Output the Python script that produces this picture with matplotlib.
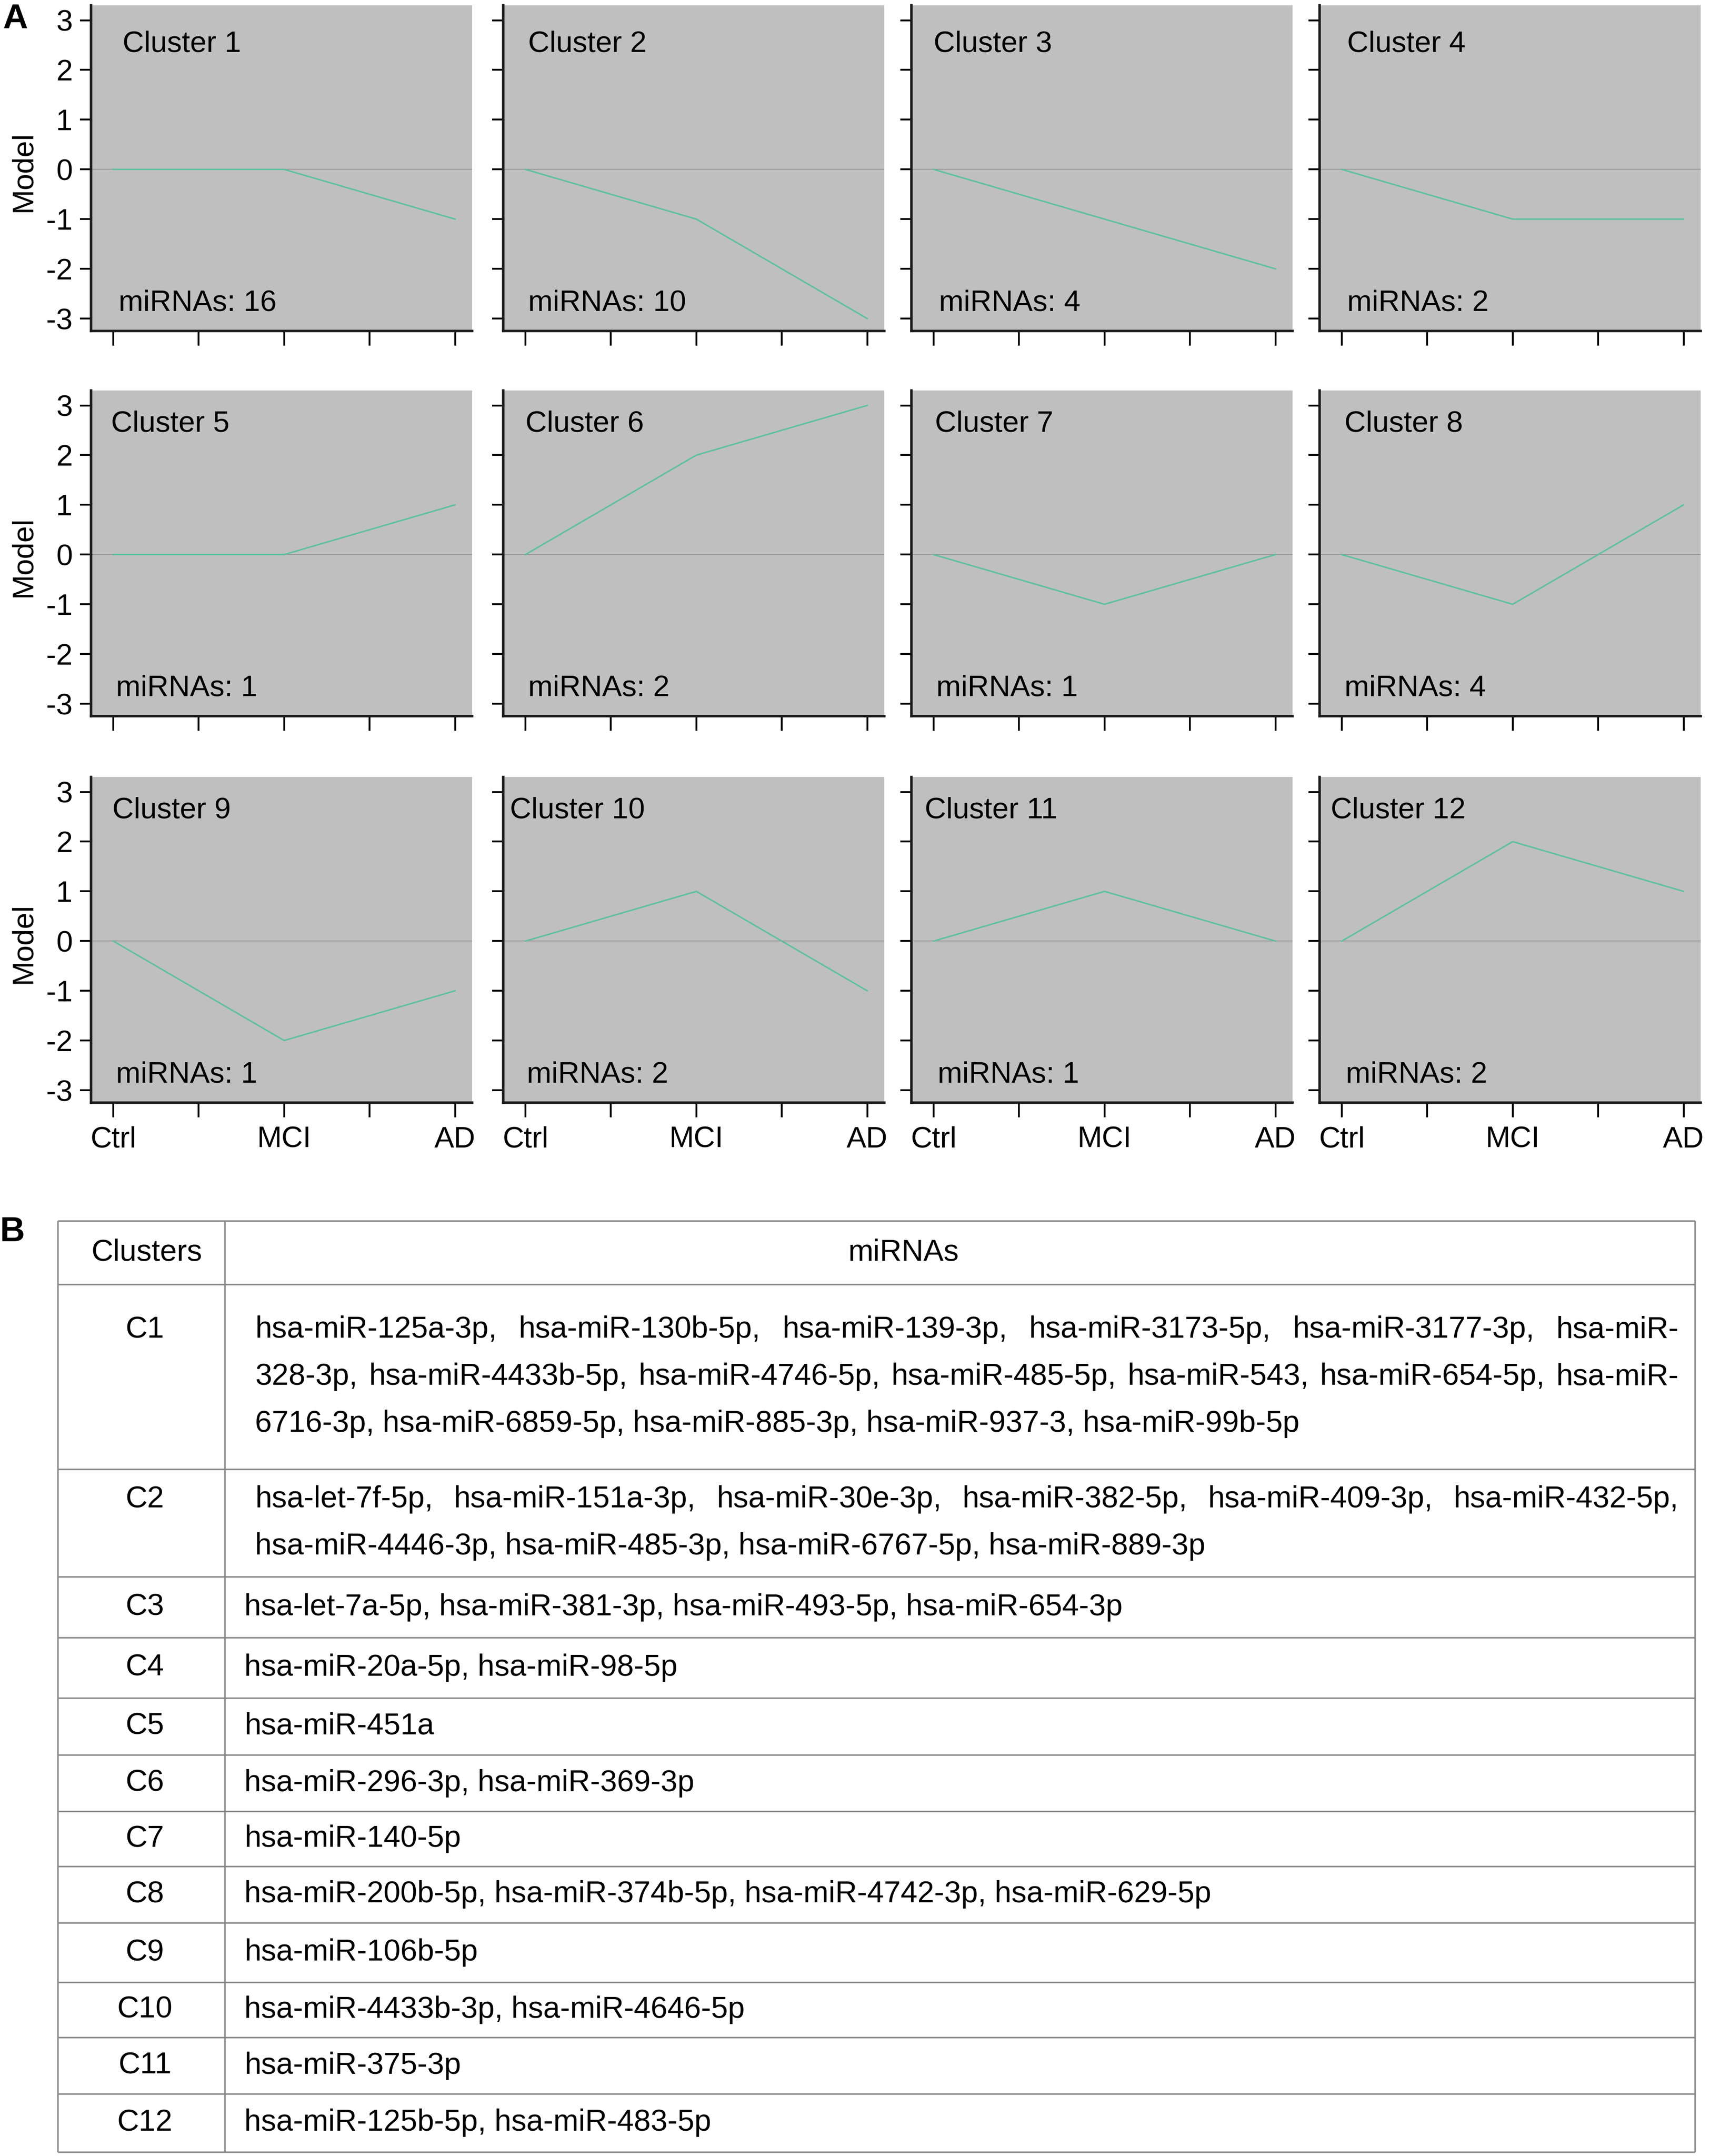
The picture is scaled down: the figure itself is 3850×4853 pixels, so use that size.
import matplotlib
matplotlib.use("Agg")
import matplotlib.pyplot as plt

plt.rcParams['font.family'] = ['Liberation Sans', 'DejaVu Sans']

# ---- panel A data: model profiles per cluster (Ctrl, MCI, AD)
groups = ["Ctrl", "MCI", "AD"]
profiles = [
    [0, 0, -1], [0, -1, -3], [0, -1, -2], [0, -1, -1],
    [0, 0, 1], [0, 2, 3], [0, -1, 0], [0, -1, 1],
    [0, -2, -1], [0, 1, -1], [0, 1, 0], [0, 2, 1],
]
n_mirnas = [16, 10, 4, 2, 1, 2, 1, 4, 1, 2, 1, 2]
yticks = [3, 2, 1, 0, -1, -2, -3]

# ---- panel B data: table
table_header = ["Clusters", "miRNAs"]
table_clusters = ["C%d" % (i + 1) for i in range(12)]
table_mirnas = [
    ["hsa-miR-125a-3p,  hsa-miR-130b-5p,  hsa-miR-139-3p,  hsa-miR-3173-5p,  hsa-miR-3177-3p,  hsa-miR-",
     "328-3p, hsa-miR-4433b-5p, hsa-miR-4746-5p, hsa-miR-485-5p, hsa-miR-543, hsa-miR-654-5p, hsa-miR-",
     "6716-3p, hsa-miR-6859-5p, hsa-miR-885-3p, hsa-miR-937-3, hsa-miR-99b-5p"],
    ["hsa-let-7f-5p,  hsa-miR-151a-3p,  hsa-miR-30e-3p,  hsa-miR-382-5p,  hsa-miR-409-3p,  hsa-miR-432-5p,",
     "hsa-miR-4446-3p, hsa-miR-485-3p, hsa-miR-6767-5p, hsa-miR-889-3p"],
    ["hsa-let-7a-5p, hsa-miR-381-3p, hsa-miR-493-5p, hsa-miR-654-3p"],
    ["hsa-miR-20a-5p, hsa-miR-98-5p"],
    ["hsa-miR-451a"],
    ["hsa-miR-296-3p, hsa-miR-369-3p"],
    ["hsa-miR-140-5p"],
    ["hsa-miR-200b-5p, hsa-miR-374b-5p, hsa-miR-4742-3p, hsa-miR-629-5p"],
    ["hsa-miR-106b-5p"],
    ["hsa-miR-4433b-3p, hsa-miR-4646-5p"],
    ["hsa-miR-375-3p"],
    ["hsa-miR-125b-5p, hsa-miR-483-5p"],
]

W, H = 3850, 4853
fig = plt.figure(figsize=(W / 100, H / 100), dpi=100)

line_col = "#5ec0a0"
panel_bg = "#bfbfbf"
fs = 48

col_left = [205, 1133, 2052, 2971]
row_top = [12, 879, 1749]
pw, ph = 858, 733
# label offsets inside each panel (pixels from left spine)
title_dx = [71, 56, 50, 62, 45, 50, 53, 56, 48, 15, 30, 25]
count_dx = [62, 56, 62, 62, 56, 56, 56, 56, 56, 53, 59, 59]
title_y = [0.88, 0.897, 0.897]

for i, prof in enumerate(profiles):
    r, c = divmod(i, 4)
    x0 = col_left[c]
    y0 = row_top[r]
    ax = fig.add_axes([x0 / W, 1 - (y0 + ph) / H, pw / W, ph / H])
    ax.set_facecolor(panel_bg)
    ax.axhline(0, color="#9a9a9a", lw=1.5, zorder=1)
    ax.plot(range(len(groups)), prof, color=line_col, lw=2.4, zorder=2)
    ax.set_xlim(-0.13, 2.1)
    ax.set_ylim(-3.25, 3.3)
    for s in ["top", "right"]:
        ax.spines[s].set_visible(False)
    for s in ["left", "bottom"]:
        ax.spines[s].set_linewidth(4)
        ax.spines[s].set_color("#1a1a1a")
    ax.set_yticks(yticks)
    ax.set_xticks([0, 0.5, 1, 1.5, 2])
    ax.tick_params(axis="y", length=18, width=3, pad=12, labelsize=fs)
    ax.tick_params(axis="x", length=24, width=3, pad=14, labelsize=fs)
    if c == 0:
        ax.set_yticklabels([str(v) for v in yticks])
        fig.text(53 / W, 1 - (y0 + 0.51 * ph) / H, "Model", rotation=90,
                 ha="center", va="center", fontsize=fs)
    else:
        ax.set_yticklabels([])
    if r == 2:
        ax.set_xticklabels(["Ctrl", "", "MCI", "", "AD"])
    else:
        ax.set_xticklabels([])
    ax.text(title_dx[i] / pw, title_y[r], "Cluster %d" % (i + 1), transform=ax.transAxes,
            ha="left", va="center", fontsize=fs)
    ax.text(count_dx[i] / pw, 0.085, "miRNAs: %d" % n_mirnas[i], transform=ax.transAxes,
            ha="left", va="center", fontsize=fs)

fig.text(34 / W, 1 - 43 / H, "A", fontsize=56, fontweight="bold", ha="center", va="center")
fig.text(28 / W, 1 - 2773 / H, "B", fontsize=56, fontweight="bold", ha="center", va="center")

# ---- table
tab = fig.add_axes([0, 0, 1, 1])
tab.set_xlim(0, W)
tab.set_ylim(H, 0)
tab.axis("off")

t_left, t_div, t_right = 130, 506, 3816
row_edges = [2748, 2891, 3307, 3549, 3686, 3822, 3950, 4077, 4201, 4328, 4462, 4586, 4713, 4844]
gcol = "#8a8a8a"
for yy in row_edges:
    tab.plot([t_left, t_right], [yy, yy], color=gcol, lw=2.5, solid_capstyle="butt")
for xx in [t_left, t_div, t_right]:
    tab.plot([xx, xx], [row_edges[0], row_edges[-1]], color=gcol, lw=2.5, solid_capstyle="butt")

tfs = 49
hy = (row_edges[0] + row_edges[1]) / 2
tab.text(330, hy, table_header[0], ha="center", va="center", fontsize=tfs)
tab.text(2034, hy, table_header[1], ha="center", va="center", fontsize=tfs)

renderer = fig.canvas.get_renderer()
line_step = 106


def put_line(x0, x1, y, text, justify):
    if not justify:
        tab.text(x0, y, text, ha="left", va="center", fontsize=tfs)
        return
    words = text.split()
    objs = [tab.text(0, y, w, ha="left", va="center", fontsize=tfs) for w in words]
    widths = [o.get_window_extent(renderer).width for o in objs]
    gap = (x1 - x0 - sum(widths)) / (len(words) - 1)
    x = x0
    for o, w in zip(objs, widths):
        o.set_x(x)
        x += w + gap


for k, (name, lines) in enumerate(zip(table_clusters, table_mirnas)):
    top, bot = row_edges[k + 1], row_edges[k + 2]
    yc = (top + bot) / 2
    n = len(lines)
    first = yc - (n - 1) / 2 * line_step
    tab.text(326, first, name, ha="center", va="center", fontsize=tfs)
    x0 = 574 if n > 1 else 550
    for j, ln in enumerate(lines):
        put_line(x0, 3779, first + j * line_step, ln, justify=(j < n - 1))

fig.savefig("out.png", dpi=100)
